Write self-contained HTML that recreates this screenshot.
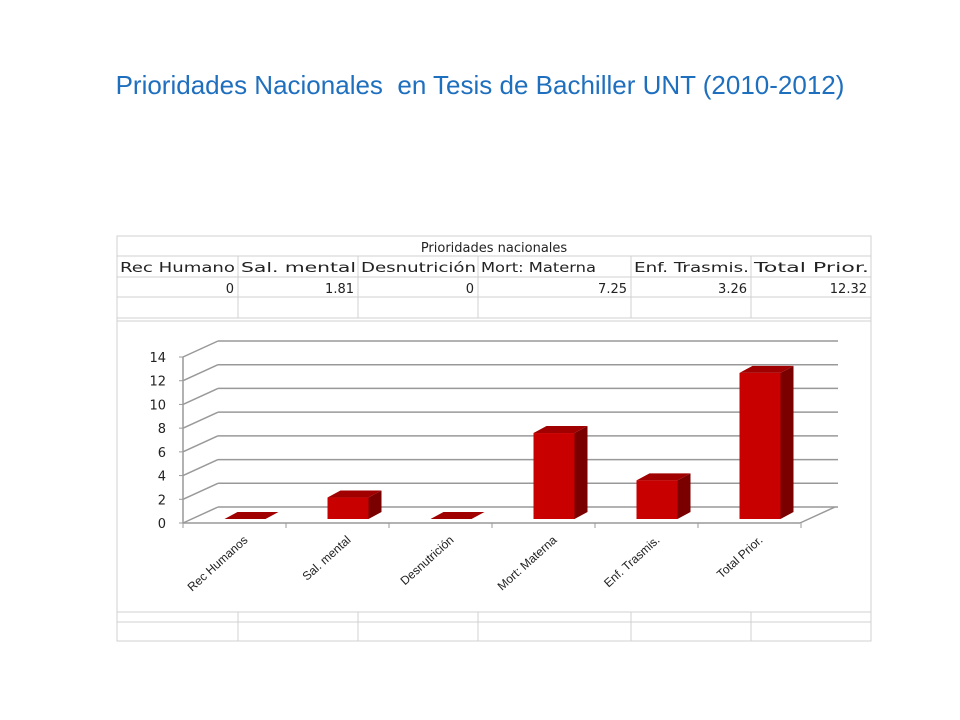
<!DOCTYPE html>
<html><head><meta charset="utf-8"><style>
body{margin:0;width:960px;height:720px;background:#fff;overflow:hidden;font-family:"Liberation Sans",sans-serif}
#title{position:absolute;left:0;top:70px;width:960px;text-align:center;color:#1f6fbf;font-size:26px;font-family:"Liberation Sans",sans-serif}
</style></head><body>
<div id="title">Prioridades Nacionales&nbsp; en Tesis de Bachiller UNT (2010-2012)</div>
<svg id="svg" width="960" height="720" style="position:absolute;left:0;top:0"></svg>
<script>
const categories=["Rec Humanos","Sal. mental","Desnutrición","Mort: Materna","Enf. Trasmis.","Total Prior."];
const headers=["Rec Humano","Sal. mental","Desnutrición","Mort: Materna","Enf. Trasmis.","Total Prior."];
const values=[0,1.81,0,7.25,3.26,12.32];
const valueLabels=["0","1.81","0","7.25","3.26","12.32"];
const yTicks=[0,2,4,6,8,10,12,14];
const NS="http://www.w3.org/2000/svg";
const svg=document.getElementById('svg');
function mk(t,a,p){const e=document.createElementNS(NS,t);for(const k in a)e.setAttribute(k,a[k]);(p||svg).appendChild(e);return e;}
// table
const cols=[117,238,358,478,631,751,871];
const g=mk('g',{});


mk('rect',{x:117,y:236,width:754,height:405,fill:'none',stroke:'#d0d0d0'},g);
[256,277,297,318,321,612,622].forEach(y=>mk('line',{x1:117,x2:871,y1:y,y2:y,stroke:'#d0d0d0'},g));
cols.forEach(x=>{mk('line',{x1:x,x2:x,y1:256,y2:318,stroke:'#d0d0d0'},g);mk('line',{x1:x,x2:x,y1:612,y2:641,stroke:'#d0d0d0'},g);});
let tt=mk('text',{x:494,y:252,'text-anchor':'middle','font-size':13,fill:'#222','font-family':'DejaVu Sans, sans-serif'},g);tt.textContent="Prioridades nacionales";

headers.forEach((h,i)=>{let t=mk('text',{x:cols[i]+3,y:272,'font-size':13,fill:'#222','font-family':'DejaVu Sans, sans-serif',textLength:Math.min(115,cols[i+1]-cols[i]-4),lengthAdjust:'spacingAndGlyphs'},g);t.textContent=h;

let v=mk('text',{x:cols[i+1]-4,y:293,'text-anchor':'end','font-size':13,fill:'#222','font-family':'DejaVu Sans, sans-serif'},g);v.textContent=valueLabels[i];
});
// chart
const x0=183,y0=523,dx=35,dy=-16,xEnd=800,ymax=14,ppu=(523-357)/14;
const Y=v=>y0-v*ppu;
const cx=i=>245+103*i;
yTicks.forEach(v=>{
 mk('line',{x1:x0,y1:Y(v),x2:x0+dx,y2:Y(v)+dy,stroke:'#999','stroke-width':1.5});
 mk('line',{x1:x0+dx,y1:Y(v)+dy,x2:xEnd+dx+3,y2:Y(v)+dy,stroke:'#999','stroke-width':1.5});
 mk('line',{x1:x0-4,y1:Y(v),x2:x0,y2:Y(v),stroke:'#999'});
 let t=mk('text',{x:x0-17,y:Y(v)+5,'text-anchor':'end','font-size':13,fill:'#222','font-family':'DejaVu Sans, sans-serif'});t.textContent=v;
 
});
mk('line',{x1:x0,y1:Y(0),x2:x0,y2:Y(14),stroke:'#999','stroke-width':1.5});
mk('line',{x1:x0,y1:y0,x2:xEnd,y2:y0,stroke:'#999','stroke-width':1.5});
mk('line',{x1:xEnd,y1:y0,x2:xEnd+dx,y2:y0+dy,stroke:'#999','stroke-width':1.5});
for(let i=0;i<=6;i++){mk('line',{x1:x0+103*i,y1:y0,x2:x0+103*i,y2:y0+5,stroke:'#999'});}
const base=519,w=41,bx=13,by=-7;
values.forEach((v,i)=>{
 const l=cx(i)-w/2,r=l+w,top=base-v*ppu;
 const bg=mk('g',{});
 
 
 mk('polygon',{points:`${r},${base} ${r+bx},${base+by} ${r+bx},${top+by} ${r},${top}`,fill:'#7a0000'},bg);
 mk('polygon',{points:`${l},${top} ${l+bx},${top+by} ${r+bx},${top+by} ${r},${top}`,fill:'#a00000'},bg);
 if(v>0)mk('rect',{x:l,y:top,width:w,height:base-top,fill:'#c80000'},bg);
 const tx=cx(i)-103/2+55, ty=y0+18;
 let t=mk('text',{x:tx,y:ty,'text-anchor':'end','font-size':12,fill:'#222',transform:`rotate(-42 ${tx} ${ty})`});t.textContent=categories[i];
 
});
</script>
</body></html>
